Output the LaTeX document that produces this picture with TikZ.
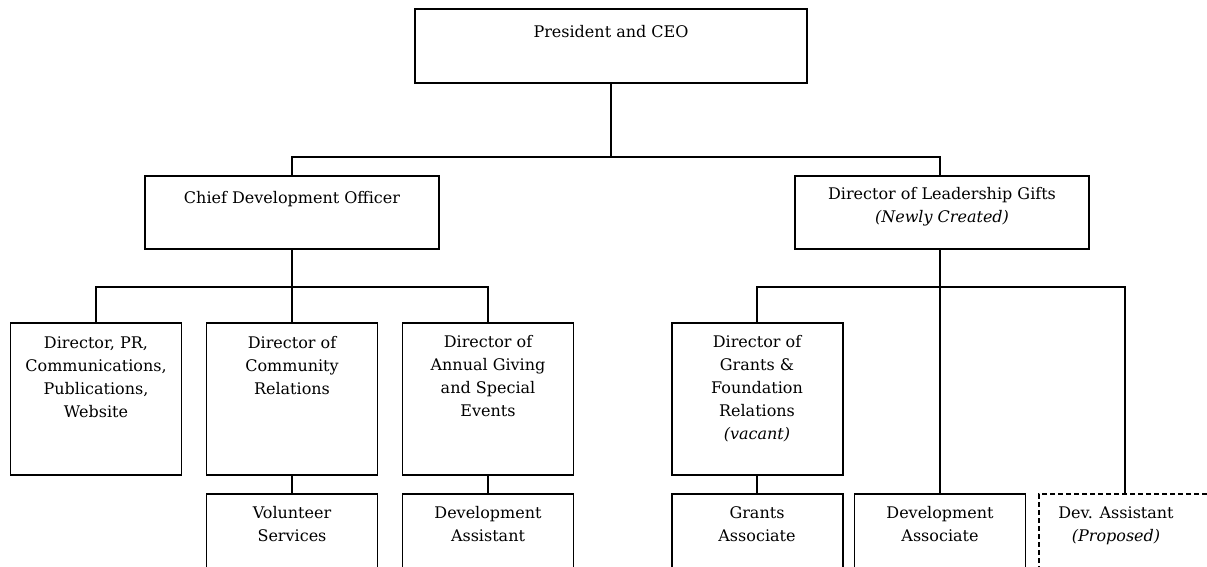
\documentclass[tikz,border=0pt]{standalone}
\usepackage{fontspec}
\setmainfont{DejaVu Serif}
\newcommand{\fs}{\fontsize{16pt}{23pt}\selectfont}
\begin{document}
\begin{tikzpicture}[x=1pt,y=-1pt,
  box/.style={draw=black, line width=1.4pt, fill=white, inner sep=0pt, outer sep=0pt},
  wbox/.style={box, minimum width=171pt, minimum height=152pt},
  bbox/.style={box, minimum width=171pt, minimum height=90pt},
  txt/.style={anchor=north, inner sep=0pt, align=center, font=\fs},
  conn/.style={draw=black, line width=1.4pt}]
\useasboundingbox (0,0) rectangle (1207,567);
\clip (0,0) rectangle (1207,567);
\coordinate (j1) at (611,157);
\coordinate (j2) at (292,287);
\coordinate (j3) at (940,287);
% boxes
\node[box, minimum width=392pt, minimum height=74pt] (ceo) at (611,46) {};
\node[box, minimum width=294pt, minimum height=73pt] (cdo) at (292,212.5) {};
\node[box, minimum width=294pt, minimum height=73pt] (dlg) at (942,212.5) {};
\node[wbox] (pr) at (96,399) {};
\node[wbox] (com) at (292,399) {};
\node[wbox] (ann) at (488,399) {};
\node[wbox] (gfr) at (757.5,399) {};
\node[bbox] (vol) at (292,539) {};
\node[bbox] (das) at (488,539) {};
\node[bbox] (gas) at (757.5,539) {};
\node[bbox] (dva) at (940,539) {};
\node[box, dash pattern=on 5pt off 3pt, minimum width=171pt, minimum height=90pt] (dvp) at (1124.5,539) {};
% connectors
\draw[conn] (ceo.south) -- (j1);
\draw[conn] (cdo.north) |- (j1) -| ([xshift=-2pt]dlg.north);
\draw[conn] (cdo.south) -- (j2);
\draw[conn] (pr.north) |- (j2) -| (ann.north);
\draw[conn] (com.north) -- (j2);
\draw[conn] ([xshift=-2pt]dlg.south) -- (j3);
\draw[conn] ([xshift=-0.5pt]gfr.north) |- (j3) -| ([xshift=0.5pt]dvp.north);
\draw[conn] (j3) -- (dva.north);
\draw[conn] ([xshift=-0.5pt]gfr.south) -- ([xshift=-0.5pt]gas.north);
\draw[conn] (com.south) -- (vol.north);
\draw[conn] (ann.south) -- (das.north);
% texts
\node[txt] (tceo) at (611,21) {\strut President and CEO};
\node[txt] (tcdo) at (292,187) {\strut Chief Development Officer};
\node[txt] (tdlg) at (942,183) {\strut Director of Leadership Gifts\\\itshape (Newly Created)};
\node[txt] (tpr) at (96,332) {\strut Director, PR,\\Communications,\\Publications,\\Website};
\node[txt] (tcom) at (292,332) {\strut Director of\\Community\\Relations};
\node[txt] (tann) at (488,331) {\strut Director of\\Annual Giving\\and Special\\Events};
\node[txt] (tgfr) at (757,331) {\strut Director of\\Grants \&\\Foundation\\Relations\\\itshape (vacant)};
\node[txt] (tvol) at (292,502) {\strut Volunteer\\Services};
\node[txt] (tdas) at (488,502) {\strut Development\\Assistant};
\node[txt] (tgas) at (757,502) {\strut Grants\\Associate};
\node[txt] (tdva) at (940,502) {\strut Development\\Associate};
\node[txt] (tdvp) at (1116,502) {\strut Dev. Assistant\\\itshape (Proposed)};
\end{tikzpicture}
\end{document}
